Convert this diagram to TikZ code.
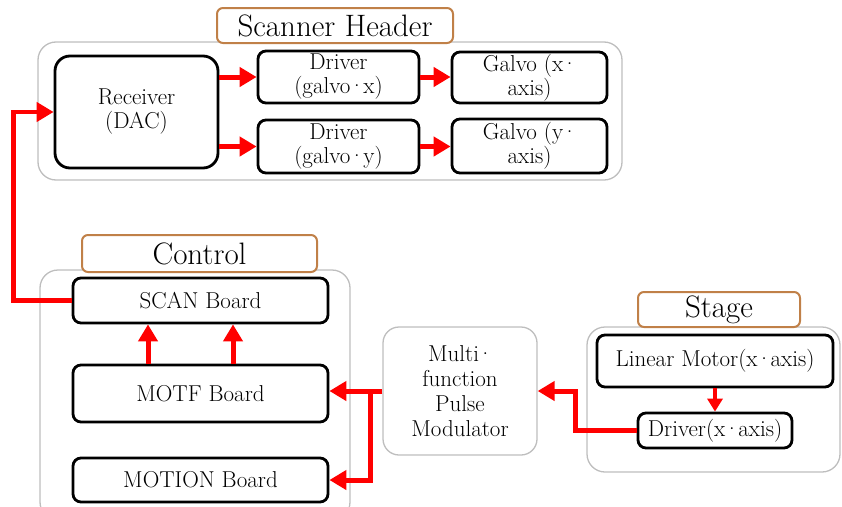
\documentclass[tikz,border=0pt]{standalone}
\usetikzlibrary{arrows.meta}
\definecolor{titlebrown}{RGB}{192,128,72}
\definecolor{groupgray}{RGB}{190,190,190}
\definecolor{sigred}{RGB}{255,0,0}
% tight middle dot used inside the labels
\newcommand{\tdot}{\kern-1.8pt\textperiodcentered\kern-1.8pt}
\begin{document}
\begin{tikzpicture}[x=1pt,y=-1pt,
  blk/.style={draw=black, line width=2.8pt, rounded corners=8pt, fill=white,
    inner sep=0pt, align=center, font=\fontsize{23}{24}\selectfont},
  group/.style={draw=groupgray, line width=1.3pt, rounded corners=18pt, fill=white,
    inner sep=0pt},
  grouptitle/.style={draw=titlebrown, line width=2pt, rounded corners=6pt, fill=white,
    inner sep=0pt, font=\fontsize{31}{34}\selectfont},
  arr/.style={draw=sigred, line width=5pt,
    -{Triangle[length=17pt,width=19pt]}},
  thinarr/.style={draw=sigred, line width=3.5pt,
    -{Triangle[length=13pt,width=15pt]}}
]
\useasboundingbox (0,0) rectangle (842,506);
\clip (0,0) rectangle (842,506);

% ---- Scanner header group ----
\node[group, minimum width=584pt, minimum height=138pt] (scanner) at (330,111) {};
\node[grouptitle, minimum width=236pt, minimum height=35pt] (scannertitle) at (335,25.5) {Scanner Header};
\node[blk, rounded corners=15pt, minimum width=163pt, minimum height=112pt] (receiver) at (136.5,112) {Receiver\\(DAC)};
\node[blk, minimum width=161pt, minimum height=52pt] (drvx) at (338.5,77) {Driver\\(galvo\tdot x)};
\node[blk, minimum width=161pt, minimum height=53pt] (drvy) at (338.5,146.5) {Driver\\(galvo\tdot y)};
\node[blk, minimum width=155pt, minimum height=51pt] (galx) at (529.5,77.5) {Galvo (x\tdot\\axis)};
\node[blk, minimum width=155pt, minimum height=54pt] (galy) at (529.5,146) {Galvo (y\tdot\\axis)};

% ---- Control group ----
\node[group, minimum width=310pt, minimum height=250pt] (control) at (195,395) {};
\node[grouptitle, minimum width=235pt, minimum height=37pt] (controltitle) at (199.5,253.5) {Control};
\node[blk, minimum width=255pt, minimum height=45pt] (scan) at (200.5,300.5) {SCAN Board};
\node[blk, minimum width=255pt, minimum height=57pt] (motf) at (200.5,393.5) {MOTF Board};
\node[blk, minimum width=255pt, minimum height=44pt] (motion) at (200.5,480) {MOTION Board};

% ---- Pulse modulator ----
\node[group, rounded corners=16pt, minimum width=154pt, minimum height=128pt,
  align=center, font=\fontsize{23}{25}\selectfont] (multi) at (460,391)
  {Multi\tdot\\function\\Pulse\\Modulator};

% ---- Stage group ----
\node[group, minimum width=253pt, minimum height=145pt] (stage) at (713.5,399.5) {};
\node[grouptitle, minimum width=162pt, minimum height=35pt] (stagetitle) at (719,309.5) {Stage};
\node[blk, minimum width=236pt, minimum height=52pt] (linmotor) at (715,361) {Linear Motor(x\tdot axis)};
\node[blk, minimum width=154pt, minimum height=35pt] (drvstage) at (715,430.5) {Driver(x\tdot axis)};

% ---- signal connectors ----
\draw[arr] (receiver.east |- drvx) -- (drvx.west);
\draw[arr] (receiver.east |- drvy) -- (drvy.west);
\draw[arr] (drvx.east) -- (galx.west |- drvx);
\draw[arr] (drvy.east) -- (galy.west |- drvy);
\draw[arr, line width=4.5pt] (scan.west) -- ++(-58,0) |- (receiver.west);
\draw[arr] ([xshift=-52.5pt]motf.north) -- ([xshift=-52.5pt]scan.south);
\draw[arr] ([xshift=32.5pt]motf.north) -- ([xshift=32.5pt]scan.south);
\coordinate (branch) at (370,391);
\draw[arr] (multi.west) -- (motf.east |- multi.west);
\draw[arr] (branch) |- (motion.east);
\draw[thinarr] (linmotor.south) -- (drvstage.north);
\draw[arr] (drvstage.west) -- ++(-61,0) |- (multi.east);
\end{tikzpicture}
\end{document}
